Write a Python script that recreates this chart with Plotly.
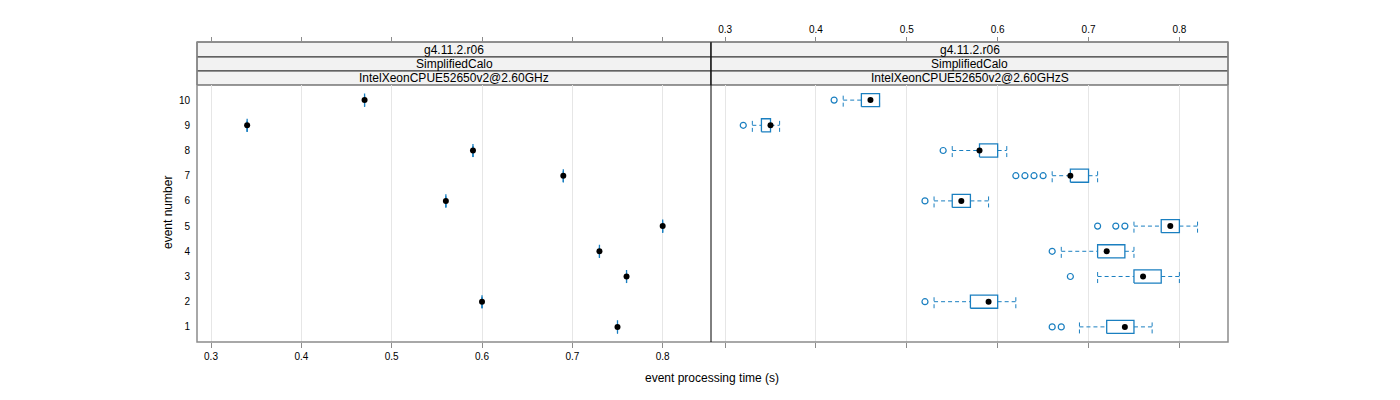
import plotly.graph_objects as go

# ---------------- data ----------------
events = [1, 2, 3, 4, 5, 6, 7, 8, 9, 10]

# left panel: IntelXeonCPUE52650v2@2.60GHz (single value per event)
left_time = [0.75, 0.60, 0.76, 0.73, 0.80, 0.56, 0.69, 0.59, 0.34, 0.47]

# right panel: IntelXeonCPUE52650v2@2.60GHzS (box statistics per event)
right_lo = [0.69, 0.53, 0.71, 0.67, 0.75, 0.53, 0.66, 0.55, 0.33, 0.43]
right_q1 = [0.72, 0.57, 0.75, 0.71, 0.78, 0.55, 0.68, 0.58, 0.34, 0.45]
right_med = [0.74, 0.59, 0.76, 0.72, 0.79, 0.56, 0.68, 0.58, 0.35, 0.46]
right_q3 = [0.75, 0.60, 0.78, 0.74, 0.80, 0.57, 0.70, 0.60, 0.35, 0.47]
right_hi = [0.77, 0.62, 0.80, 0.75, 0.82, 0.59, 0.71, 0.61, 0.36, 0.47]
right_outliers = [
    [0.66, 0.67],
    [0.52],
    [0.68],
    [0.66],
    [0.71, 0.73, 0.74],
    [0.52],
    [0.62, 0.63, 0.64, 0.65],
    [0.54],
    [0.32],
    [0.42],
]

x_ticks = [0.3, 0.4, 0.5, 0.6, 0.7, 0.8]
strip_labels_left = ["g4.11.2.r06", "SimplifiedCalo", "IntelXeonCPUE52650v2@2.60GHz"]
strip_labels_right = ["g4.11.2.r06", "SimplifiedCalo", "IntelXeonCPUE52650v2@2.60GHzS"]

# ---------------- style ----------------
W, H = 1400, 400
BLUE = "#1a7fc0"
FRAME = "#8c8c8c"
FONT = "Liberation Sans, Arial, sans-serif"
X_RANGE = [0.2845, 0.8535]
Y_RANGE = [0.4, 10.6]
HALF = 0.26

px_l0, px_mid, px_r1 = 197, 711, 1228
py_top, py_bot = 85, 342
strip_edges = [42, 57, 71, 85]


def fx(p):
    return p / W


def fy(p):
    return 1 - p / H


dom_left = [fx(px_l0), fx(px_mid)]
dom_right = [fx(px_mid), fx(px_r1)]
dom_y = [fy(py_bot), fy(py_top)]


def box_traces(lo, q1, med, q3, hi, xa, ya):
    wx, wy, cx, cy, bx, by = [], [], [], [], [], []
    for e, a, b, m, c, d in zip(events, lo, q1, med, q3, hi):
        wx += [a, b, None, c, d, None]
        wy += [e, e, None, e, e, None]
        cx += [a, a, None, d, d, None]
        cy += [e - HALF, e + HALF, None, e - HALF, e + HALF, None]
        bx += [b, c, c, b, b, None]
        by += [e - HALF, e - HALF, e + HALF, e + HALF, e - HALF, None]
    common = dict(xaxis=xa, yaxis=ya, showlegend=False, hoverinfo="skip", mode="lines")
    return [
        go.Scatter(x=wx, y=wy, line=dict(color=BLUE, width=1, dash="4px,3px"), **common),
        go.Scatter(x=cx, y=cy, line=dict(color=BLUE, width=1, dash="4px,3px"), **common),
        go.Scatter(x=bx, y=by, line=dict(color=BLUE, width=1.3), **common),
        go.Scatter(x=med, y=events, mode="markers", xaxis=xa, yaxis=ya, showlegend=False,
                   marker=dict(color="black", size=6), hoverinfo="x+y"),
    ]


fig = go.Figure()

# left panel (degenerate boxes)
for t in box_traces(left_time, left_time, left_time, left_time, left_time, "x", "y"):
    fig.add_trace(t)

# right panel
for t in box_traces(right_lo, right_q1, right_med, right_q3, right_hi, "x2", "y2"):
    fig.add_trace(t)
ox, oy = [], []
for e, vals in zip(events, right_outliers):
    for v in vals:
        ox.append(v)
        oy.append(e)
fig.add_trace(go.Scatter(x=ox, y=oy, mode="markers", xaxis="x2", yaxis="y2", showlegend=False,
                         marker=dict(symbol="circle-open", color=BLUE, size=6, line=dict(width=1.2))))

# dummy traces for top axes
fig.add_trace(go.Scatter(x=[0.5], y=[5], xaxis="x3", yaxis="y", mode="markers",
                         marker=dict(opacity=0), showlegend=False, hoverinfo="skip"))
fig.add_trace(go.Scatter(x=[0.5], y=[5], xaxis="x4", yaxis="y2", mode="markers",
                         marker=dict(opacity=0), showlegend=False, hoverinfo="skip"))

tick_font = dict(family=FONT, size=10, color="black")
axis_common = dict(range=X_RANGE, tickvals=x_ticks, ticktext=[str(v) for v in x_ticks],
                   showline=False, zeroline=False, tickfont=tick_font,
                   ticks="outside", ticklen=5, tickcolor=FRAME, tickwidth=1)

fig.update_layout(
    width=W, height=H,
    margin=dict(l=0, r=0, t=0, b=0),
    paper_bgcolor="white", plot_bgcolor="white",
    font=dict(family=FONT, color="black"),
    xaxis=dict(domain=dom_left, anchor="y", side="bottom", showgrid=True,
               gridcolor="#e6e6e6", gridwidth=1, showticklabels=True, **axis_common),
    xaxis2=dict(domain=dom_right, anchor="y2", side="bottom", showgrid=True,
                gridcolor="#e6e6e6", gridwidth=1, showticklabels=False, **axis_common),
    xaxis3=dict(domain=dom_left, anchor="free", position=fy(strip_edges[0]), side="top",
                showgrid=False, showticklabels=False, overlaying="x", **axis_common),
    xaxis4=dict(domain=dom_right, anchor="free", position=fy(strip_edges[0]), side="top",
                showgrid=False, showticklabels=True, overlaying="x2", **axis_common),
    yaxis=dict(domain=dom_y, anchor="x", range=Y_RANGE, tickvals=events,
               ticktext=[str(e) for e in events], showgrid=False, zeroline=False,
               showline=False, ticks="", ticklabelstandoff=6, tickfont=tick_font),
    yaxis2=dict(domain=dom_y, anchor="x2", range=Y_RANGE, showgrid=False, zeroline=False,
                showline=False, showticklabels=False, ticks=""),
)

shapes = []
annotations = []
# panel frames
shapes.append(dict(type="rect", xref="paper", yref="paper", x0=dom_left[0], x1=dom_right[1],
                   y0=dom_y[0], y1=fy(strip_edges[0]), line=dict(color=FRAME, width=1.5),
                   fillcolor="rgba(0,0,0,0)", layer="above"))
# strips
for dom, labels in ((dom_left, strip_labels_left), (dom_right, strip_labels_right)):
    for i, lab in enumerate(labels):
        y0 = fy(strip_edges[i + 1])
        y1 = fy(strip_edges[i])
        shapes.append(dict(type="rect", xref="paper", yref="paper", x0=dom[0], x1=dom[1],
                           y0=y0, y1=y1, fillcolor="#f2f2f2",
                           line=dict(color="#333333", width=1), layer="below"))
        annotations.append(dict(xref="paper", yref="paper", x=(dom[0] + dom[1]) / 2,
                                y=(y0 + y1) / 2, text=lab, showarrow=False,
                                font=dict(family=FONT, size=12, color="black"),
                                xanchor="center", yanchor="middle"))
# divider between panels
shapes.append(dict(type="line", xref="paper", yref="paper", x0=dom_left[1], x1=dom_left[1],
                   y0=dom_y[0], y1=fy(strip_edges[0]), line=dict(color="black", width=1),
                   layer="above"))
# axis titles
annotations.append(dict(xref="paper", yref="paper", x=fx(712), y=fy(378), text="event processing time (s)",
                        showarrow=False, font=dict(family=FONT, size=12, color="black"),
                        xanchor="center", yanchor="middle"))
annotations.append(dict(xref="paper", yref="paper", x=fx(168), y=fy(213), text="event number",
                        showarrow=False, textangle=-90, font=dict(family=FONT, size=12, color="black"),
                        xanchor="center", yanchor="middle"))
fig.update_layout(shapes=shapes, annotations=annotations)

fig.write_html("out.html")
